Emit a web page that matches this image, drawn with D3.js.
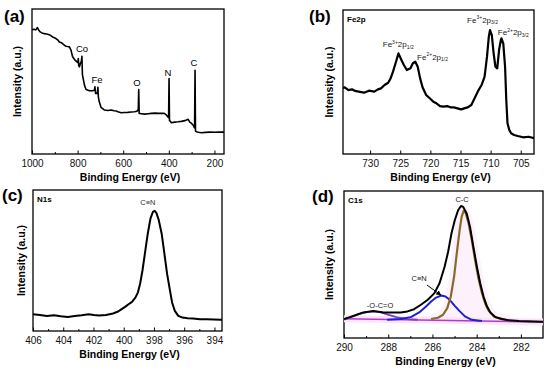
<!DOCTYPE html>
<html>
<head>
<meta charset="utf-8">
<script src="https://cdn.jsdelivr.net/npm/d3@7"></script>
<style>
  body { margin: 0; background: #fff; }
  svg { display: block; font-family: "Liberation Sans", Arial, "DejaVu Sans", sans-serif; }
  .tick text { font-size: 10px; fill: #111; }
  .tick line { stroke: #000; }
</style>
</head>
<body>
<svg id="chart" width="550" height="374"></svg>
<script>
// (a) survey spectrum: binding energy (eV) / intensity (a.u.)
const surveyEV = [1000, 990, 983, 976, 971, 964, 956, 946, 936, 924, 916, 910, 901, 895, 886, 880, 871, 866, 858, 851,
  844, 836, 829, 822, 811, 803, 799, 797, 795, 792, 788, 784, 781, 779, 777, 770, 763, 748, 734, 726,
  724, 721, 713, 711, 709, 705, 697, 682, 667, 653, 640, 631, 620, 609, 595, 580, 565, 551, 540, 536,
  534, 532, 530, 520, 506, 490, 477, 460, 445, 433, 420, 411, 405, 401, 399, 397, 395, 389, 375, 360,
  345, 330, 323, 315, 308, 300, 294, 290, 287, 285, 283, 279, 270, 257, 240, 220, 200, 180, 158];
const surveyInt = [85.8, 86.0, 85.6, 87.2, 85.5, 84.2, 83.5, 83.0, 82.8, 82.3, 81.5, 80.7, 80.2, 79.6, 78.5, 77.3, 76.8, 76.1, 75.0, 74.3,
  74.1, 73.9, 71.6, 67.0, 64.7, 63.5, 63.0, 65.8, 61.0, 60.1, 62.4, 63.5, 67.4, 55.0, 53.2, 47.5, 44.5, 43.6, 43.6, 44.0,
  46.3, 41.7, 42.0, 46.0, 39.4, 36.0, 32.1, 30.3, 30.0, 30.3, 29.8, 29.6, 29.0, 28.4, 28.6, 28.7, 29.0, 29.1, 29.5, 30.3,
  30.0, 44.5, 28.0, 27.8, 27.5, 27.8, 28.0, 28.2, 28.0, 28.0, 28.0, 27.0, 25.7, 25.0, 52.1, 23.0, 22.9, 21.6, 22.0, 22.2,
  22.5, 23.0, 23.4, 23.9, 22.0, 21.1, 20.0, 18.8, 18.0, 57.8, 15.8, 15.4, 15.0, 14.7, 14.9, 15.1, 15.0, 15.2, 15.1];
const surveyPeaks = ["Co", "Fe", "O", "N", "C"];
const surveyPeakEV = [780.7, 714.9, 539.5, 403.5, 289.5];
const surveyPeakInt = [70.3, 49, 46.9, 53.8, 60.7];

// (b) Fe2p
const fe2pEV = [735.0, 734.8, 734.2, 733.6, 733.0, 732.5, 731.9, 731.0, 730.2, 729.3, 728.7, 728.2, 727.6, 727.0, 726.6, 726.2,
  725.7, 725.3, 724.8, 724.4, 723.9, 723.3, 722.9, 722.5, 722.1, 721.7, 721.3, 720.7, 720.1, 719.5, 719.0, 718.4,
  717.8, 717.2, 716.7, 716.1, 715.5, 714.9, 714.4, 713.8, 713.2, 712.8, 712.4, 712.0, 711.5, 711.0, 710.6, 710.3,
  710.1, 709.8, 709.5, 709.2, 708.9, 708.6, 708.3, 708.2, 707.9, 707.6, 707.4, 707.2, 706.9, 706.6, 706.1, 705.5,
  704.6, 703.7, 702.6];
const fe2pInt = [46.3, 45.6, 46.3, 44.4, 44.9, 43.8, 43.3, 42.6, 44.0, 43.3, 44.9, 45.6, 47.9, 49.5, 52.5, 57.2,
  64.1, 69.9, 65.3, 61.8, 58.3, 59.5, 63.0, 64.1, 60.6, 52.5, 46.3, 41.0, 38.7, 36.3, 35.2, 33.3,
  32.9, 33.3, 32.4, 32.4, 31.7, 31.0, 31.7, 32.4, 34.0, 37.5, 41.0, 44.4, 47.9, 53.7, 67.6, 81.5,
  86.1, 82.6, 69.9, 60.6, 59.5, 72.2, 79.2, 80.3, 76.9, 60.6, 37.5, 21.3, 16.7, 14.4, 13.2, 12.5,
  11.6, 12.0, 10.9];
const fe2pIon = ["3+", "2+", "3+", "2+"];
const fe2pLevel = ["1/2", "1/2", "3/2", "3/2"];
const fe2pLabelEV = [727.9, 722.2, 713.9, 708.8];
const fe2pLabelInt = [74.3, 65.3, 91, 82.6];

// (c) N1s
const n1sEV = [406.0, 405.54, 405.08, 404.62, 404.16, 403.70, 403.24, 402.78, 402.32, 401.98, 401.63, 401.17, 400.71,
  400.37, 400.14, 399.91, 399.68, 399.45, 399.22, 399.06, 398.92, 398.76, 398.60, 398.41, 398.23, 398.07, 397.95,
  397.84, 397.68, 397.49, 397.31, 397.13, 396.94, 396.80, 396.62, 396.39, 396.11, 395.77, 395.42, 394.96, 394.50,
  394.04, 393.59, 393.24, 392.96];
const n1sInt = [11.9, 11.4, 10.7, 11.2, 10.5, 10.0, 10.7, 11.2, 11.9, 11.4, 11.0, 11.4, 12.4,
  13.8, 15.5, 17.1, 19.0, 20.7, 23.8, 27.4, 33.3, 42.9, 54.8, 69.0, 79.8, 84.5, 85.2,
  83.8, 78.6, 69.0, 54.8, 40.5, 28.6, 20.2, 14.3, 10.7, 9.5, 9.0, 8.8, 8.3, 8.3,
  8.1, 7.9, 8.3, 8.1];

// (d) C1s: envelope and fitted components
const c1sEV = [290.0, 289.74, 289.43, 289.13, 288.67, 288.21, 287.75, 287.44, 287.13, 286.83, 286.52, 286.21, 285.91,
  285.68, 285.45, 285.29, 285.14, 284.99, 284.84, 284.71, 284.61, 284.45, 284.30, 284.15, 283.99, 283.84, 283.69,
  283.53, 283.38, 283.15, 282.84, 282.54, 282.08, 281.0];
const c1sInt = [12.9, 14.2, 15.8, 17.4, 18.3, 17.4, 17.4, 17.4, 18.1, 19.6, 22.6, 26.0, 30.5,
  37.2, 48.5, 58.7, 71.1, 80.1, 86.9, 89.8, 89.2, 84.7, 75.6, 62.1, 48.5, 37.2, 28.2,
  21.4, 17.4, 14.2, 12.9, 12.0, 11.5, 11.1];
const ccEV = [286.06, 285.75, 285.52, 285.33, 285.17, 285.02, 284.90, 284.77, 284.68, 284.59, 284.50, 284.38, 284.22,
  284.07, 283.92, 283.76, 283.61, 283.46, 283.23, 282.92, 282.54];
const ccInt = [12.9, 13.8, 15.8, 20.3, 28.2, 41.8, 57.6, 73.4, 82.4, 86.5, 85.1, 79.0, 66.6,
  53.0, 40.6, 30.5, 23.3, 18.7, 14.7, 12.9, 12.0];
const cnEV = [288.05, 287.44, 286.98, 286.60, 286.29, 286.06, 285.83, 285.60, 285.41, 285.22, 284.99, 284.76, 284.53, 284.22, 283.76];
const cnInt = [12.4, 12.9, 14.2, 17.4, 21.4, 24.8, 27.5, 28.9, 28.2, 26.0, 21.9, 18.1, 14.7, 12.4, 11.5];
const ocoEV = [290.0, 289.74, 289.36, 288.97, 288.67, 288.36, 287.98, 287.59, 287.13, 286.67];
const ocoInt = [12.4, 13.8, 16.0, 17.6, 18.1, 17.6, 15.8, 14.0, 12.9, 12.4];
const bgEV = [290, 281];
const bgInt = [13.1, 10.8];

const svg = d3.select("#chart");

function pairs(xs, ys) {
  return xs.map((x, i) => [x, ys[i]]);
}

// draws frame, bottom axis and titles; returns scales and clipped group
function panel(o) {
  var x = d3.scaleLinear().domain(o.domain).range([o.left, o.right]);
  var y = d3.scaleLinear().domain([0, 100]).range([o.bottom, o.top]);
  var g = svg.append("g");

  g.append("clipPath").attr("id", "clip" + o.key)
    .append("rect")
    .attr("x", o.left).attr("y", o.top)
    .attr("width", o.right - o.left).attr("height", o.bottom - o.top);

  // minor ticks
  g.append("g")
    .attr("transform", "translate(0," + o.bottom + ")")
    .call(d3.axisBottom(x).tickValues(o.minor).tickSizeInner(-2).tickSizeOuter(0).tickFormat(""))
    .call((s) => s.select(".domain").remove());

  g.append("g")
    .attr("transform", "translate(0," + o.bottom + ")")
    .call(d3.axisBottom(x).tickValues(o.major).tickSizeInner(-3.5).tickSizeOuter(0).tickPadding(6).tickFormat(d3.format("d")))
    .call((s) => s.select(".domain").remove());

  g.append("rect")
    .attr("x", o.left).attr("y", o.top)
    .attr("width", o.right - o.left).attr("height", o.bottom - o.top)
    .attr("fill", "none").attr("stroke", "#000").attr("stroke-width", 1.3);

  g.append("text")
    .attr("x", (o.left + o.right) / 2 + 2)
    .attr("y", o.bottom + 27)
    .attr("text-anchor", "middle")
    .attr("font-size", 10.5).attr("font-weight", "bold")
    .text("Binding Energy (eV)");

  g.append("text")
    .attr("transform", "translate(" + o.ytitleX + "," + (o.top + o.bottom) / 2 + ") rotate(-90)")
    .attr("text-anchor", "middle")
    .attr("font-size", 10.5).attr("font-weight", "bold")
    .text("Intensity (a.u.)");

  g.append("text")
    .attr("x", o.letterX).attr("y", o.letterY)
    .attr("font-size", 17).attr("font-weight", "bold")
    .text(o.letter);

  if (o.name) {
    g.append("text")
      .attr("x", o.left + 4).attr("y", o.top + 12)
      .attr("font-size", 8).attr("font-weight", "bold")
      .text(o.name);
  }

  var plot = g.append("g").attr("clip-path", "url(#clip" + o.key + ")");
  var line = d3.line().x((d) => x(d[0])).y((d) => y(d[1]));
  return { x: x, y: y, g: g, plot: plot, line: line };
}

// (a)
var pa = panel({
  key: "a", left: 32, right: 224, top: 9, bottom: 154, domain: [1000, 158],
  major: [1000, 800, 600, 400, 200], minor: [900, 700, 500, 300],
  ytitleX: 21, letter: "(a)", letterX: 4, letterY: 22
});
pa.plot.append("path")
  .datum(pairs(surveyEV, surveyInt))
  .attr("d", pa.line)
  .attr("fill", "none").attr("stroke", "#000").attr("stroke-width", 1.6)
  .attr("stroke-linejoin", "round");
pa.g.selectAll("text.peak")
  .data(surveyPeaks)
  .join("text")
  .attr("class", "peak")
  .attr("x", (d, i) => pa.x(surveyPeakEV[i]))
  .attr("y", (d, i) => pa.y(surveyPeakInt[i]))
  .attr("text-anchor", "middle")
  .attr("font-size", 9.5)
  .text((d) => d);

// (b)
var pb = panel({
  key: "b", left: 343, right: 534, top: 10, bottom: 154, domain: [734.5, 702.8],
  major: [730, 725, 720, 715, 710, 705], minor: [],
  ytitleX: 333, letter: "(b)", letterX: 309, letterY: 22, name: "Fe2p"
});
pb.plot.append("path")
  .datum(pairs(fe2pEV, fe2pInt))
  .attr("d", pb.line)
  .attr("fill", "none").attr("stroke", "#000").attr("stroke-width", 2.2)
  .attr("stroke-linejoin", "round");
var feLab = pb.g.selectAll("text.fe")
  .data(fe2pIon)
  .join("text")
  .attr("class", "fe")
  .attr("x", (d, i) => pb.x(fe2pLabelEV[i]))
  .attr("y", (d, i) => pb.y(fe2pLabelInt[i]))
  .attr("font-size", 8)
  .attr("fill", "#222");
feLab.append("tspan").text("Fe");
feLab.append("tspan").attr("font-size", 5).attr("dy", -3.5).text((d) => d);
feLab.append("tspan").attr("dy", 3.5).text("2p");
feLab.append("tspan").attr("font-size", 5).attr("dy", 1.5).text((d, i) => fe2pLevel[i]);

// (c)
var pc = panel({
  key: "c", left: 33, right: 222, top: 190, bottom: 331, domain: [406, 393.5],
  major: [406, 404, 402, 400, 398, 396, 394], minor: [405, 403, 401, 399, 397, 395],
  ytitleX: 25, letter: "(c)", letterX: 2, letterY: 201, name: "N1s"
});
pc.plot.append("path")
  .datum(pairs(n1sEV, n1sInt))
  .attr("d", pc.line)
  .attr("fill", "none").attr("stroke", "#000").attr("stroke-width", 2)
  .attr("stroke-linejoin", "round");
pc.g.append("text")
  .attr("x", pc.x(398.4)).attr("y", pc.y(89.4))
  .attr("text-anchor", "middle").attr("font-size", 7.5).attr("fill", "#333")
  .text("C≡N");

// (d)
var pd = panel({
  key: "d", left: 344, right: 543, top: 191, bottom: 338, domain: [290, 281],
  major: [290, 288, 286, 284, 282], minor: [289, 287, 285, 283],
  ytitleX: 333, letter: "(d)", letterX: 312, letterY: 202, name: "C1s"
});
var comps = [
  { ev: bgEV, int: bgInt, color: "#b13bd0", w: 1.6 },
  { ev: ocoEV, int: ocoInt, color: "#7a3fc8", w: 1.8 },
  { ev: cnEV, int: cnInt, color: "#1f1fd6", w: 2 },
  { ev: ccEV, int: ccInt, color: "#8a6a2a", w: 2.2 },
  { ev: c1sEV, int: c1sInt, color: "#000", w: 2 }
];
// faint pink wash seen behind the fit
pd.plot.append("path")
  .datum(pairs(ccEV, ccInt))
  .attr("d", pd.line)
  .attr("fill", "#fdf1fb").attr("stroke", "#fdf1fb").attr("stroke-width", 10);
pd.plot.append("path")
  .datum(pairs(bgEV, bgInt))
  .attr("d", pd.line)
  .attr("fill", "none").attr("stroke", "#fbe6f7").attr("stroke-width", 7);
pd.plot.selectAll("path.comp")
  .data(comps)
  .join("path")
  .attr("class", "comp")
  .attr("d", (c) => pd.line(pairs(c.ev, c.int)))
  .attr("fill", "none")
  .attr("stroke", (c) => c.color)
  .attr("stroke-width", (c) => c.w)
  .attr("stroke-linejoin", "round");

pd.g.append("defs").append("marker")
  .attr("id", "arrow").attr("viewBox", "0 0 10 10")
  .attr("refX", 9).attr("refY", 5)
  .attr("markerWidth", 5).attr("markerHeight", 5)
  .attr("orient", "auto")
  .append("path").attr("d", "M0,0L10,5L0,10z").attr("fill", "#000");
pd.g.append("line")
  .attr("x1", pd.x(286.25)).attr("y1", pd.y(36.05))
  .attr("x2", pd.x(285.62)).attr("y2", pd.y(29.2))
  .attr("stroke", "#000").attr("stroke-width", 1)
  .attr("marker-end", "url(#arrow)");

var dLabels = [["C-C", 284.66, 92.5], ["C≡N", 286.6, 38.8], ["-O-C=O", 288.37, 20.4]];
pd.g.selectAll("text.lab")
  .data(dLabels)
  .join("text")
  .attr("class", "lab")
  .attr("x", (d) => pd.x(d[1]))
  .attr("y", (d) => pd.y(d[2]))
  .attr("text-anchor", "middle")
  .attr("font-size", 7.5)
  .attr("fill", "#222")
  .text((d) => d[0]);
</script>
</body>
</html>
